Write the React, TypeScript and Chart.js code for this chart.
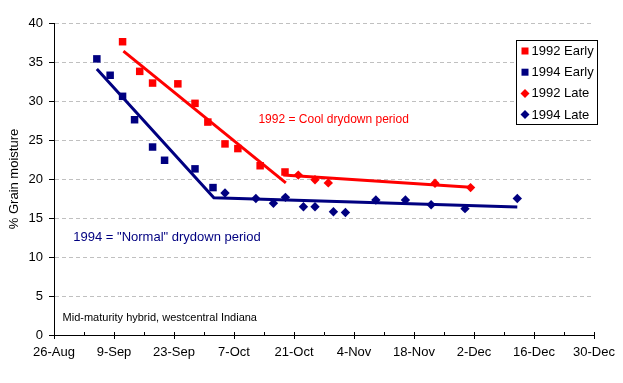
import React, { useEffect, useRef } from 'react';
import { Chart, registerables } from 'chart.js';

Chart.register(...registerables);

// x values are days after 26-Aug
const xTickLabels = ['26-Aug', '9-Sep', '23-Sep', '7-Oct', '21-Oct', '4-Nov', '18-Nov', '2-Dec', '16-Dec', '30-Dec'];

const early1992Days = [16, 20, 23, 28.9, 32.9, 35.9, 39.9, 42.9, 48.1, 53.9];
const early1992Moisture = [37.6, 33.8, 32.3, 32.2, 29.7, 27.3, 24.5, 23.9, 21.7, 20.9];

const early1994Days = [10, 13.1, 16, 18.8, 23, 25.8, 32.9, 37.1];
const early1994Moisture = [35.4, 33.3, 30.6, 27.6, 24.1, 22.4, 21.3, 18.9];

const late1992Days = [57, 60.9, 64, 88.9, 97.2];
const late1992Moisture = [20.5, 19.9, 19.5, 19.45, 18.9];

const late1994Days = [39.9, 47.1, 51.2, 54, 58.2, 60.9, 65.2, 68, 75.1, 82, 88, 95.9, 108.1];
const late1994Moisture = [18.2, 17.5, 16.9, 17.65, 16.45, 16.45, 15.8, 15.7, 17.3, 17.3, 16.7, 16.2, 17.5];

// fitted drydown lines
const trend1992EarlyDays = [16.2, 54.1];
const trend1992EarlyMoisture = [36.4, 19.5];
const trend1992LateDays = [53.5, 97.2];
const trend1992LateMoisture = [20.5, 18.95];
const trend1994Days = [10, 37.3, 108.1];
const trend1994Moisture = [34.1, 17.6, 16.4];

const annotations = [
  { text: '1992 = Cool drydown period', day: 47.7, value: 27.65, color: '#ff0000', size: 12 },
  { text: '1994 = "Normal" drydown period', day: 4.5, value: 12.5, color: '#000080', size: 13 },
  { text: 'Mid-maturity hybrid, westcentral Indiana', day: 2.0, value: 2.2, color: '#000000', size: 11 },
];

const RED = '#ff0000';
const NAVY = '#000080';
const FONT = '"Liberation Sans", Arial, Helvetica, sans-serif';

const pts = (xs: number[], ys: number[]) => xs.map((x, i) => ({ x, y: ys[i] }));

const annotationPlugin = {
  id: 'textNotes',
  afterDatasetsDraw(chart: any) {
    const { ctx, scales } = chart;
    ctx.save();
    ctx.textAlign = 'left';
    ctx.textBaseline = 'middle';
    annotations.forEach((a) => {
      ctx.font = `${a.size}px ${FONT}`;
      ctx.fillStyle = a.color;
      ctx.fillText(a.text, scales.x.getPixelForValue(a.day), scales.y.getPixelForValue(a.value));
    });
    ctx.restore();
  },
};

const innerTicksPlugin = {
  id: 'innerTicks',
  afterDraw(chart: any) {
    const { ctx, scales } = chart;
    const xs = scales.x;
    ctx.save();
    ctx.strokeStyle = '#000';
    ctx.lineWidth = 1;
    ctx.beginPath();
    for (let d = 7; d <= 126; d += 7) {
      const px = Math.round(xs.getPixelForValue(d)) + 0.5;
      ctx.moveTo(px, xs.top - 3);
      ctx.lineTo(px, xs.top);
    }
    ctx.stroke();
    ctx.restore();
  },
};

const legendPlugin = {
  id: 'boxLegend',
  afterDraw(chart: any) {
    const { ctx, chartArea } = chart;
    const ds = chart.data.datasets.filter((d: any) => !d.isTrend);
    const x0 = Math.round(chartArea.right - 78) + 0.5;
    const y0 = Math.round(chartArea.top + 17) + 0.5;
    const w = 81;
    const h = 84;
    ctx.save();
    ctx.fillStyle = '#fff';
    ctx.fillRect(x0, y0, w, h);
    ctx.strokeStyle = '#000';
    ctx.lineWidth = 1;
    ctx.strokeRect(x0, y0, w, h);
    ctx.font = `13px ${FONT}`;
    ctx.textBaseline = 'middle';
    ctx.textAlign = 'left';
    ds.forEach((d: any, i: number) => {
      const cy = y0 + 10.5 + i * 21.2;
      const cx = x0 + 8.5;
      ctx.fillStyle = d.backgroundColor;
      if (d.pointStyle === 'rect') {
        ctx.fillRect(cx - 3.5, cy - 3.5, 7, 7);
      } else {
        ctx.beginPath();
        ctx.moveTo(cx - 4.5, cy);
        ctx.lineTo(cx, cy - 4.5);
        ctx.lineTo(cx + 4.5, cy);
        ctx.lineTo(cx, cy + 4.5);
        ctx.closePath();
        ctx.fill();
      }
      ctx.fillStyle = '#000';
      ctx.fillText(d.label, x0 + 15, cy + 0.5);
    });
    ctx.restore();
  },
};

export default function App() {
  const canvasRef = useRef<HTMLCanvasElement | null>(null);

  useEffect(() => {
    document.body.style.margin = '0';
    const canvas = canvasRef.current;
    if (!canvas) return;
    const trendStyle = (color: string) => ({
      type: 'line' as const,
      showLine: true,
      borderColor: color,
      backgroundColor: color,
      borderWidth: 3,
      pointRadius: 0,
      pointHoverRadius: 0,
      fill: false,
      tension: 0,
      order: 0,
      isTrend: true,
    });
    const markerStyle = (color: string, shape: string, r: number) => ({
      type: 'scatter' as const,
      backgroundColor: color,
      borderColor: color,
      borderWidth: 0,
      pointStyle: shape,
      pointRadius: r,
      pointHoverRadius: r,
      showLine: false,
      order: 1,
    });
    const chart = new Chart(canvas, {
      type: 'scatter',
      data: {
        datasets: [
          { label: '1992 Early', data: pts(early1992Days, early1992Moisture), ...markerStyle(RED, 'rect', 5.3) },
          { label: '1994 Early', data: pts(early1994Days, early1994Moisture), ...markerStyle(NAVY, 'rect', 5.3) },
          { label: '1992 Late', data: pts(late1992Days, late1992Moisture), ...markerStyle(RED, 'rectRot', 4.7) },
          { label: '1994 Late', data: pts(late1994Days, late1994Moisture), ...markerStyle(NAVY, 'rectRot', 4.7) },
          { label: 'trend92e', data: pts(trend1992EarlyDays, trend1992EarlyMoisture), ...trendStyle(RED) },
          { label: 'trend92l', data: pts(trend1992LateDays, trend1992LateMoisture), ...trendStyle(RED) },
          { label: 'trend94', data: pts(trend1994Days, trend1994Moisture), ...trendStyle(NAVY) },
        ] as any,
      },
      options: {
        responsive: false,
        animation: false,
        events: [],
        layout: { padding: { top: 23, right: 29, left: 0, bottom: 0 } },
        plugins: {
          legend: { display: false },
          tooltip: { enabled: false },
        },
        scales: {
          x: {
            type: 'linear',
            min: 0,
            max: 126,
            ticks: {
              stepSize: 14,
              autoSkip: false,
              maxRotation: 0,
              color: '#000',
              padding: 6,
              font: { family: FONT, size: 13 },
              callback: (v: any) => xTickLabels[Math.round(Number(v) / 14)] ?? '',
            },
            grid: { drawOnChartArea: false, tickLength: 4, tickColor: '#000' },
            border: { color: '#000', width: 1 },
            afterFit: (s: any) => { s.height = 48; },
          },
          y: {
            type: 'linear',
            min: 0,
            max: 40,
            ticks: {
              stepSize: 5,
              color: '#000',
              padding: 6,
              font: { family: FONT, size: 13 },
            },
            grid: {
              color: (c: any) => (c.tick && c.tick.value === 0 ? 'rgba(0,0,0,0)' : '#c0c0c0'),
              tickColor: '#000',
              tickLength: 5,
              tickBorderDash: [],
            },
            border: { color: '#000', width: 1, dash: [4, 3] },
            title: {
              display: true,
              text: '% Grain moisture',
              color: '#000',
              font: { family: FONT, size: 13 },
              padding: { top: 7, bottom: 0 },
            },
            afterFit: (s: any) => { s.width = 54; },
          },
        },
      } as any,
      plugins: [annotationPlugin, innerTicksPlugin, legendPlugin],
    });
    return () => chart.destroy();
  }, []);

  return (
    <div style={{ width: 623, height: 383 }}>
      <canvas ref={canvasRef} width={623} height={383} style={{ display: 'block' }} />
    </div>
  );
}
